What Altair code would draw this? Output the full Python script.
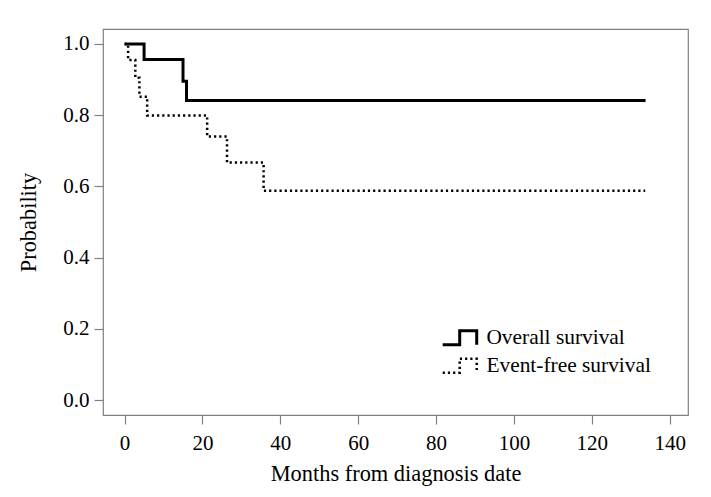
import altair as alt
import pandas as pd

# Kaplan-Meier step points
os_months = [0, 5.0, 15.0, 15.9, 133.8]
os_prob = [1.0, 0.956, 0.895, 0.841, 0.841]

efs_months = [0, 0.9, 2.75, 3.8, 5.8, 21.2, 26.3, 35.7, 133.7]
efs_prob = [1.0, 0.955, 0.905, 0.852, 0.799, 0.740, 0.667, 0.588, 0.588]

series_names = ["Overall survival", "Event-free survival"]
x_ticks = [0, 20, 40, 60, 80, 100, 120, 140]
y_ticks = [0.0, 0.2, 0.4, 0.6, 0.8, 1.0]

rows = []
for m, p in zip(os_months, os_prob):
    rows.append({"months": m, "prob": p, "series": series_names[0], "order": len(rows)})
for m, p in zip(efs_months, efs_prob):
    rows.append({"months": m, "prob": p, "series": series_names[1], "order": len(rows)})
df = pd.DataFrame(rows)
df["weight"] = df["series"]

FONT = "Liberation Serif"

legend_symbol = "M-2.43,1H0V-1H2.43V1"

chart = (
    alt.Chart(df)
    .mark_line(interpolate="step-after", color="black", strokeCap="butt")
    .encode(
        x=alt.X(
            "months:Q",
            scale=alt.Scale(domain=[-5.55, 144.7], nice=False, zero=False),
            axis=alt.Axis(values=x_ticks, title="Months from diagnosis date", format="d"),
        ),
        y=alt.Y(
            "prob:Q",
            scale=alt.Scale(domain=[-0.042, 1.042], nice=False, zero=False),
            axis=alt.Axis(values=y_ticks, title="Probability", format=".1f"),
        ),
        detail="series:N",
        order="order:Q",
        strokeDash=alt.StrokeDash(
            "series:N",
            scale=alt.Scale(domain=series_names, range=[[1, 0], [2.2, 3.0]]),
            legend=alt.Legend(
                title=None,
                orient="none",
                legendX=346,
                legendY=298,
                symbolType=legend_symbol,
                symbolSize=196,
                symbolStrokeColor="black",
                symbolFillColor="transparent",
                symbolStrokeWidth=1.5,
                labelFont=FONT,
                labelFontSize=21.4,
                labelColor="black",
                labelOffset=16,
                rowPadding=2,
                labelLimit=400,
            ),
        ),
        strokeWidth=alt.StrokeWidth(
            "weight:N",
            scale=alt.Scale(domain=series_names, range=[3, 2.5]),
            legend=None,
        ),
    )
    .properties(
        width=585,
        height=386,
        padding={"left": 95, "top": 21, "right": 15, "bottom": 74},
        autosize=alt.AutoSizeParams(type="none"),
        background="white",
    )
    .configure_view(stroke="#808080", strokeWidth=1.2)
    .configure_axis(
        grid=False,
        domain=False,
        tickColor="#808080",
        tickSize=9,
        tickWidth=1.2,
        labelFont=FONT,
        labelFontSize=21,
        labelColor="black",
        titleFont=FONT,
        titleFontSize=22.4,
        titleFontWeight="normal",
        titleColor="black",
    )
    .configure_axisX(labelPadding=8, titlePadding=9)
    .configure_axisY(labelPadding=5, titlePadding=22)
)

chart.save("out.html", embed_options={"renderer": "svg", "actions": False})
